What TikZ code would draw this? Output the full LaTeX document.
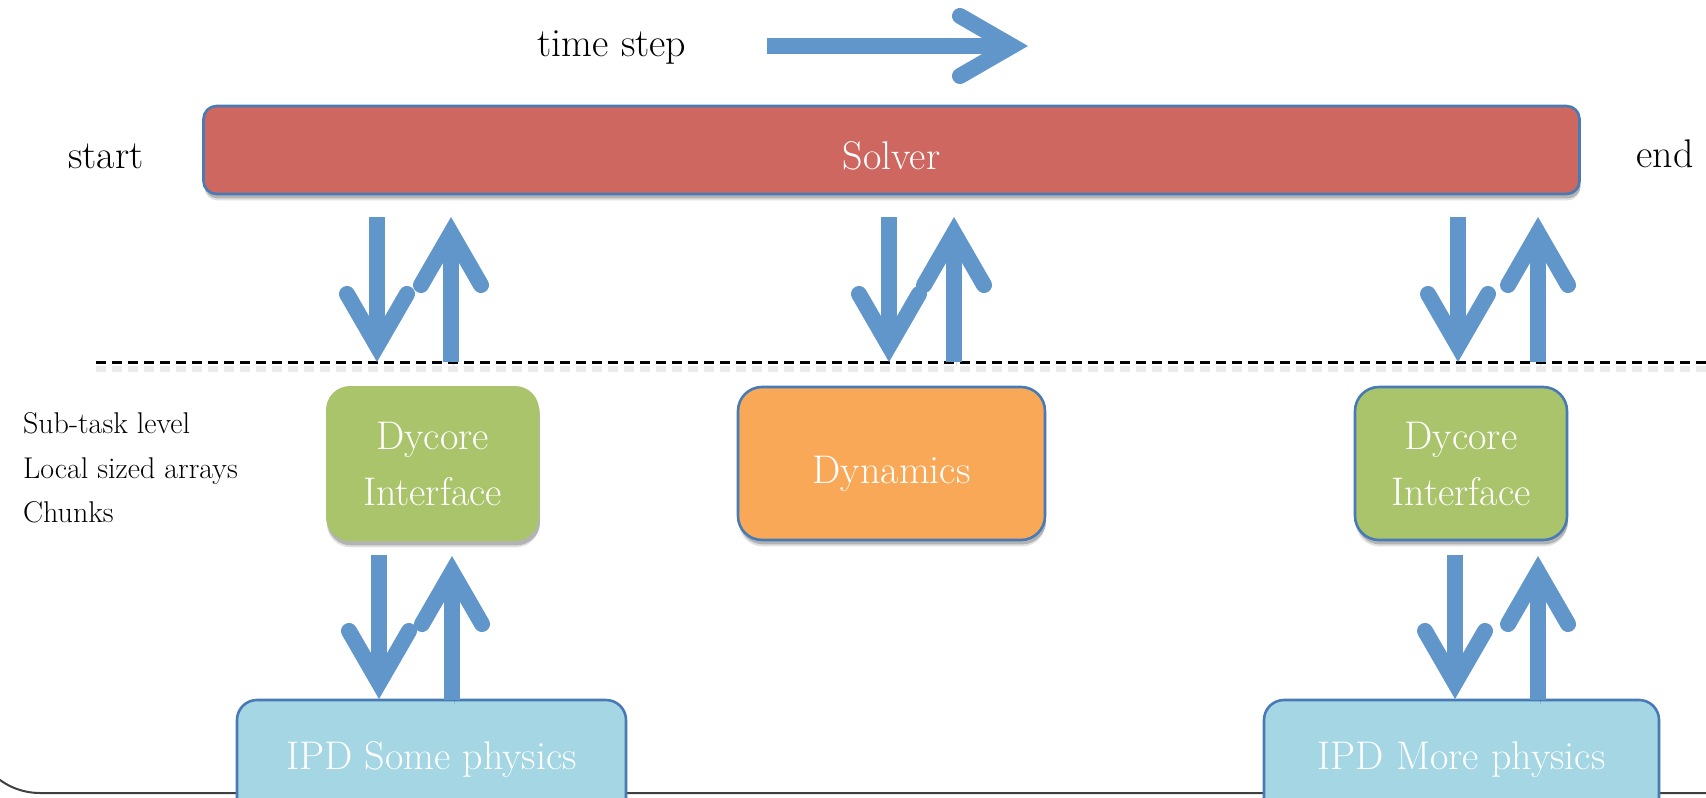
\documentclass[tikz,border=0pt]{standalone}
\usetikzlibrary{arrows.meta,shadows}

\definecolor{solverred}{RGB}{205,103,96}
\definecolor{edgeblue}{RGB}{72,122,182}
\definecolor{flowblue}{RGB}{97,150,203}
\definecolor{dycoregreen}{RGB}{170,196,108}
\definecolor{dynorange}{RGB}{249,168,87}
\definecolor{ipdblue}{RGB}{164,214,228}

\begin{document}
\begin{tikzpicture}[x=0.5pt,y=-0.5pt,
  bigfont/.style={font=\fontsize{20}{28}\selectfont},
  sidefont/.style={font=\fontsize{15}{22}\selectfont},
  softshadow/.style={
    drop shadow={shadow xshift=0.4pt, shadow yshift=-3.2pt, opacity=0.12, fill=black},
    drop shadow={shadow xshift=0.6pt, shadow yshift=-2.2pt, opacity=0.2, fill=black}},
  taskbox/.style={bigfont, text=white, align=center, inner sep=0pt, softshadow},
  flow/.style={draw=flowblue, line width=8pt,
    -{Straight Barb[length=26pt, width=30pt, line cap=round, line join=miter]},
    preaction={draw=black, opacity=0.12, transform canvas={shift={(1pt,-2pt)}}}},
]
\useasboundingbox (0,0) rectangle (1706,797);
\clip (0,0) rectangle (1706,797);

% outer frame edge along the bottom
\draw[line width=1pt, draw=black!75, rounded corners=34pt] (-28,600) -- (-28,793) -- (1760,793);

% time direction
\node[bigfont, anchor=base] (timestep) at (612,57) {time step};
\coordinate (t0) at (767,46);
\coordinate (t1) at (1028,46);
\draw[flow] (t0) -- (t1);

% solver bar
\node[taskbox, fill=solverred, draw=edgeblue, line width=1.3pt, rounded corners=6.5pt,
      minimum width=688pt, minimum height=44pt, text height=19pt, text depth=0pt]
      (solver) at (891.5,150) {Solver};
\node[bigfont, anchor=base] (start) at (106,168) {start};
\node[bigfont, anchor=base] (end) at (1665,167) {end};

% level separator
\coordinate (sepL) at (96,362);
\coordinate (sepR) at (1720,362);
\draw[black, opacity=0.08, line width=3pt, dash pattern=on 5pt off 3pt, transform canvas={yshift=-3.5pt}] (sepL) -- (sepR);
\draw[black, line width=1.5pt, dash pattern=on 5pt off 3pt] (sepL) -- (sepR);

% sub-task level boxes
\node[taskbox, fill=dycoregreen, rounded corners=12pt, minimum width=106.5pt, minimum height=77.5pt]
      (dycL) at (432.5,463.5) {Dycore\\Interface};
\node[taskbox, fill=dynorange, draw=edgeblue, line width=1.3pt, rounded corners=12pt,
      minimum width=153.5pt, minimum height=76.5pt, text height=20pt, text depth=0pt]
      (dyn) at (891.5,463.5) {Dynamics};
\node[taskbox, fill=dycoregreen, draw=edgeblue, line width=1.3pt, rounded corners=12pt,
      minimum width=106pt, minimum height=76.5pt]
      (dycR) at (1461,463.5) {Dycore\\Interface};

% physics boxes
\node[taskbox, fill=ipdblue, draw=edgeblue, line width=1.3pt, rounded corners=10pt,
      minimum width=194.5pt, minimum height=70pt, text height=7pt, text depth=8pt]
      (ipdL) at (431.5,770) {IPD Some physics};
\node[taskbox, fill=ipdblue, draw=edgeblue, line width=1.3pt, rounded corners=10pt,
      minimum width=197.5pt, minimum height=70pt, text height=7pt, text depth=8pt]
      (ipdR) at (1461.5,770) {IPD More physics};

\node[sidefont, anchor=base west] (lvl1) at (16,433) {Sub-task level};
\node[sidefont, anchor=base west] (lvl2) at (16,478) {Local sized arrays};
\node[sidefont, anchor=base west] (lvl3) at (16,522) {Chunks};

% solver <-> sub-task exchanges
\coordinate (d1a) at (377,217);  \coordinate (d1b) at (377,362);
\coordinate (u1a) at (451,362);  \coordinate (u1b) at (451,217);
\coordinate (d2a) at (889,217);  \coordinate (d2b) at (889,362);
\coordinate (u2a) at (954,362);  \coordinate (u2b) at (954,217);
\coordinate (d3a) at (1458,217); \coordinate (d3b) at (1458,362);
\coordinate (u3a) at (1538,362); \coordinate (u3b) at (1538,217);
\draw[flow] (d1a) -- (d1b);
\draw[flow] (u1a) -- (u1b);
\draw[flow] (d2a) -- (d2b);
\draw[flow] (u2a) -- (u2b);
\draw[flow] (d3a) -- (d3b);
\draw[flow] (u3a) -- (u3b);

% interface <-> physics exchanges
\coordinate (d4a) at (379,555);  \coordinate (d4b) at (379,699);
\coordinate (u4a) at (452,700);  \coordinate (u4b) at (452,556);
\coordinate (d5a) at (1455,555); \coordinate (d5b) at (1455,699);
\coordinate (u5a) at (1538,700); \coordinate (u5b) at (1538,556);
\draw[flow] (d4a) -- (d4b);
\draw[flow] (u4a) -- (u4b);
\draw[flow] (d5a) -- (d5b);
\draw[flow] (u5a) -- (u5b);
\end{tikzpicture}
\end{document}
